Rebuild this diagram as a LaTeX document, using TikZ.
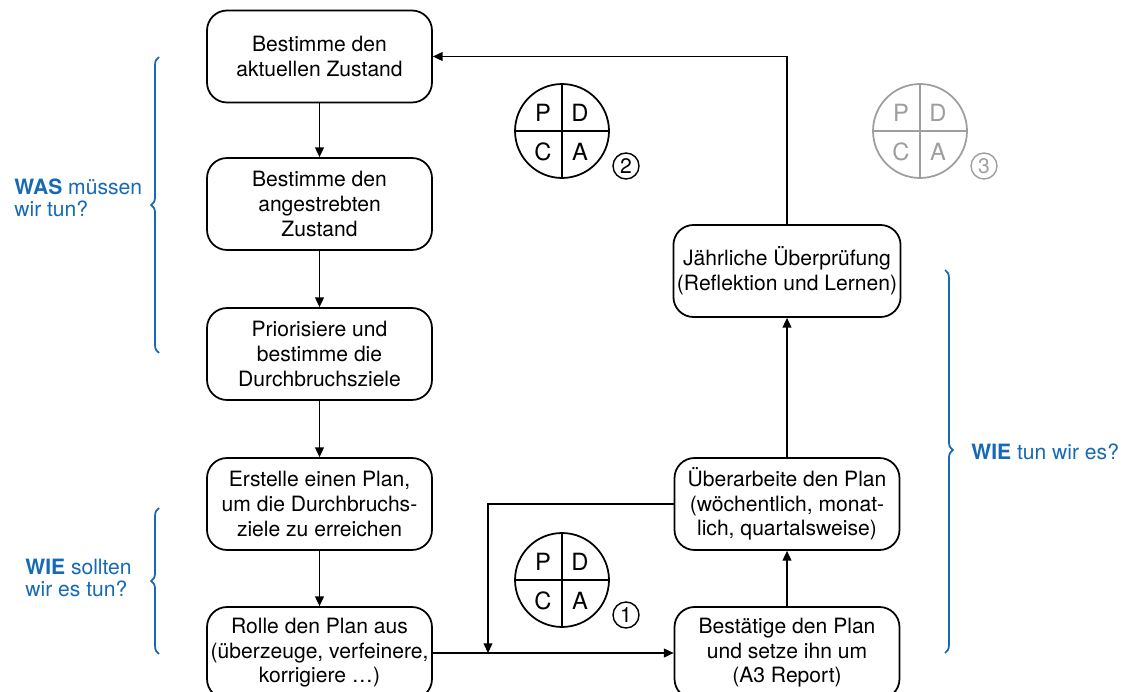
\documentclass[tikz,border=0pt]{standalone}
\usepackage{fontspec}
\setmainfont{TeX Gyre Heros}
\usepackage{xcolor}
\usetikzlibrary{arrows.meta,decorations.pathreplacing}

\definecolor{wasblue}{RGB}{22,106,180}
\definecolor{pdcagrey}{RGB}{158,158,158}

\tikzset{
    box/.style={draw, rounded corners=0.4cm, line width=1pt, minimum width=4.5cm,
        minimum height=1.84cm, align=center, inner sep=2pt,
        font=\fontsize{12}{14}\selectfont},
    arr/.style={line width=0.8pt, -{Triangle[length=5.5pt,width=5pt]}},
    bracket/.style={draw=wasblue, line width=1pt, decorate,
        decoration={brace, amplitude=4.5pt}},
    question/.style={anchor=west, align=left, inner sep=0pt, text=wasblue,
        font=\fontsize{12}{12.5}\selectfont},
    letter/.style={font=\fontsize{13.5}{13.5}\selectfont},
    number/.style={draw, circle, line width=0.8pt, minimum size=0.52cm,
        inner sep=0pt, font=\fontsize{12}{12}\selectfont}
}

\begin{document}
\begin{tikzpicture}[x=0.02cm, y=-0.02cm]
        \useasboundingbox (0,0) rectangle (1125,692);

        % left column
        \node[box] (aktuell) at (319.5,56.5) {Bestimme den\\aktuellen Zustand};
        \node[box] (ziel) at (319.5,204) {Bestimme den\\angestrebten\\Zustand};
        \node[box] (prio) at (319.5,354) {Priorisiere und\\bestimme die\\Durchbruchsziele};
        \node[box] (plan) at (319.5,504) {Erstelle einen Plan,\\um die Durchbruchs-\\ziele zu erreichen};
        \node[box] (rollout) at (319.5,653) {Rolle den Plan aus\\(überzeuge, verfeinere,\\korrigiere \dots)};

        % right column
        \node[box] (review) at (787,271) {Jährliche Überprüfung\\(Reflektion und Lernen)};
        \node[box] (rework) at (787,504) {Überarbeite den Plan\\(wöchentlich, monat-\\lich, quartalsweise)};
        \node[box] (confirm) at (787,653) {Bestätige den Plan\\und setze ihn um\\(A3 Report)};

        \coordinate (join) at (488,653);

        \draw[arr] (aktuell) -- (ziel);
        \draw[arr] (ziel) -- (prio);
        \draw[arr] (prio) -- (plan);
        \draw[arr] (plan) -- (rollout);
        \draw[arr] (rollout.east) -- (confirm.west);
        \draw[arr] (confirm) -- (rework);
        \draw[arr] (rework) -- (review);
        \draw[arr] (review.north) |- (aktuell.east);
        \draw[arr] (rework.west) -| (join);

        % PDCA circles
        \foreach \cx/\cy/\n/\col in {562/131/2/black, 562/580/1/black, 920/131/3/pdcagrey} {
            \draw[\col, line width=1pt] (\cx,\cy) circle (0.94cm);
            \draw[\col, line width=1pt] (\cx-47,\cy) -- (\cx+47,\cy);
            \draw[\col, line width=1pt] (\cx,\cy-47) -- (\cx,\cy+47);
            \node[letter, text=\col] (p\n) at (\cx-19,\cy-18) {P};
            \node[letter, text=\col] (d\n) at (\cx+18,\cy-18) {D};
            \node[letter, text=\col] (c\n) at (\cx-19,\cy+21) {C};
            \node[letter, text=\col] (a\n) at (\cx+18,\cy+21) {A};
            \node[number, draw=\col, text=\col] (n\n) at (\cx+64,\cy+35) {\n};
        }

        % braces and questions
        \draw[bracket] (159,353) -- (159,57);
        \node[question] (was) at (14,198) {\textbf{WAS} müssen\\wir tun?};
        \draw[bracket] (159,654) -- (159,508);
        \node[question] (wiesoll) at (25,578) {\textbf{WIE} sollten\\wir es tun?};
        \draw[bracket, decoration={aspect=0.47}] (945,270) -- (945,653);
        \node[question] (wietun) at (971,452) {\textbf{WIE} tun wir es?};
    \end{tikzpicture}
\end{document}
